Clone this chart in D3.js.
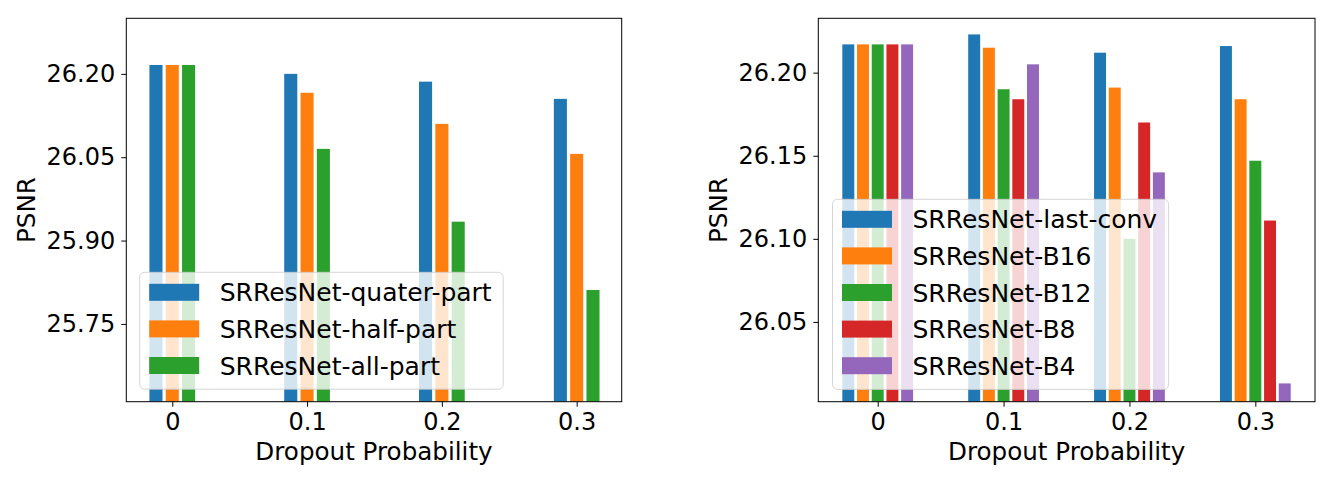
<!DOCTYPE html>
<html>
<head>
<meta charset="utf-8">
<script src="https://cdn.jsdelivr.net/npm/d3@7"></script>
<style>
  body { margin: 0; background: #fff; }
  text { font-family: "DejaVu Sans", sans-serif; fill: #000; }
</style>
</head>
<body>
<svg id="chart" width="1332" height="480"></svg>
<script>
// categories
const dropout = ["0", "0.1", "0.2", "0.3"];

// left panel series
const leftNames = ["SRResNet-quater-part", "SRResNet-half-part", "SRResNet-all-part"];
const quaterPart = [26.216, 26.200, 26.186, 26.155];
const halfPart = [26.216, 26.166, 26.110, 26.056];
const allPart = [26.216, 26.065, 25.934, 25.811];
const leftTicks = [25.75, 25.90, 26.05, 26.20];

// right panel series
const rightNames = ["SRResNet-last-conv", "SRResNet-B16", "SRResNet-B12", "SRResNet-B8", "SRResNet-B4"];
const lastConv = [26.217, 26.223, 26.212, 26.216];
const b16 = [26.217, 26.215, 26.191, 26.184];
const b12 = [26.217, 26.190, 26.100, 26.147];
const b8 = [26.217, 26.184, 26.170, 26.111];
const b4 = [26.217, 26.205, 26.140, 26.013];
const rightTicks = [26.05, 26.10, 26.15, 26.20];

const colors = ["#1f77b4", "#ff7f0e", "#2ca02c", "#d62728", "#9467bd"];
const tickSize = 24;
const labelSize = 24.6;
const legendSize = 25;

const svg = d3.select("#chart");

function drawPanel(cfg) {
  const x = d3.scaleLinear().domain(cfg.xDomain).range([cfg.left, cfg.right]);
  const y = d3.scaleLinear().domain(cfg.yDomain).range([cfg.bottom, cfg.top]);
  const n = cfg.series.length;
  const g = svg.append("g");

  // clip bars to the axes box
  const clipId = "clip-" + cfg.id;
  svg.append("clipPath").attr("id", clipId)
    .append("rect")
    .attr("x", cfg.left).attr("y", cfg.top)
    .attr("width", cfg.right - cfg.left).attr("height", cfg.bottom - cfg.top);

  const bars = g.append("g").attr("clip-path", `url(#${clipId})`);
  cfg.series.forEach((vals, s) => {
    bars.selectAll(".bar-" + s)
      .data(vals)
      .join("rect")
      .attr("class", "bar-" + s)
      .attr("x", (d, i) => x(i + (s - (n - 1) / 2) * cfg.step - cfg.barWidth / 2))
      .attr("width", x(cfg.barWidth) - x(0))
      .attr("y", d => y(d))
      .attr("height", d => cfg.bottom - y(d))
      .attr("fill", colors[s]);
  });

  // axes
  g.append("g")
    .attr("transform", `translate(0,${cfg.bottom})`)
    .call(d3.axisBottom(x).tickValues(d3.range(dropout.length)).tickFormat(i => dropout[i]).tickSize(5).tickPadding(5))
    .call(a => a.select(".domain").remove())
    .call(a => a.selectAll("text").attr("font-size", tickSize).attr("font-family", "DejaVu Sans").attr("dy", "0.75em"));

  g.append("g")
    .attr("transform", `translate(${cfg.left},0)`)
    .call(d3.axisLeft(y).tickValues(cfg.ticks).tickFormat(d3.format(".2f")).tickSize(5).tickPadding(6))
    .call(a => a.select(".domain").remove())
    .call(a => a.selectAll("text").attr("font-size", tickSize).attr("font-family", "DejaVu Sans"));

  g.append("rect")
    .attr("x", cfg.left).attr("y", cfg.top)
    .attr("width", cfg.right - cfg.left).attr("height", cfg.bottom - cfg.top)
    .attr("fill", "none").attr("stroke", "#000").attr("stroke-width", 1);

  // axis labels
  g.append("text")
    .attr("x", (cfg.left + cfg.right) / 2)
    .attr("y", 459.5)
    .attr("text-anchor", "middle")
    .attr("font-size", labelSize)
    .text("Dropout Probability");

  g.append("text")
    .attr("transform", `translate(${cfg.yLabelX},${(cfg.top + cfg.bottom) / 2}) rotate(-90)`)
    .attr("text-anchor", "middle")
    .attr("dominant-baseline", "central")
    .attr("font-size", labelSize)
    .text("PSNR");

  // legend
  const lg = g.append("g");
  const box = lg.append("rect")
    .attr("x", cfg.legendX).attr("y", cfg.legendY)
    .attr("rx", 5).attr("ry", 5)
    .attr("fill", "#fff").attr("fill-opacity", 0.8)
    .attr("stroke", "#cccccc").attr("stroke-opacity", 0.8).attr("stroke-width", 1);

  const rowGap = 36.6;
  let maxLen = 0;
  cfg.names.forEach((name, s) => {
    const cy = cfg.legendY + 20 + s * rowGap;
    lg.append("rect")
      .attr("x", cfg.legendX + 9.5).attr("y", cy - 8.5)
      .attr("width", 50).attr("height", 17)
      .attr("fill", colors[s]);
    const t = lg.append("text")
      .attr("x", cfg.legendX + 80).attr("y", cy)
      .attr("dy", "0.36em")
      .attr("font-size", legendSize)
      .text(name);
    maxLen = Math.max(maxLen, t.node().getComputedTextLength());
  });
  box.attr("width", 80 + maxLen + 11.5)
    .attr("height", 20 + (cfg.names.length - 1) * rowGap + 23.7);
}

drawPanel({
  id: "left",
  left: 126.3, right: 621.7, top: 18.3, bottom: 401.7,
  xDomain: [-0.341, 3.334], yDomain: [25.61, 26.30],
  step: 0.121, barWidth: 0.097,
  series: [quaterPart, halfPart, allPart],
  names: leftNames, ticks: leftTicks,
  yLabelX: 26.5,
  legendX: 139.7, legendY: 272.3
});

drawPanel({
  id: "right",
  left: 818.3, right: 1315, top: 18.3, bottom: 401.7,
  xDomain: [-0.472, 3.474], yDomain: [26.002, 26.2327],
  step: 0.1168, barWidth: 0.095,
  series: [lastConv, b16, b12, b8, b4],
  names: rightNames, ticks: rightTicks,
  yLabelX: 718.5,
  legendX: 832.5, legendY: 199.3
});
</script>
</body>
</html>
